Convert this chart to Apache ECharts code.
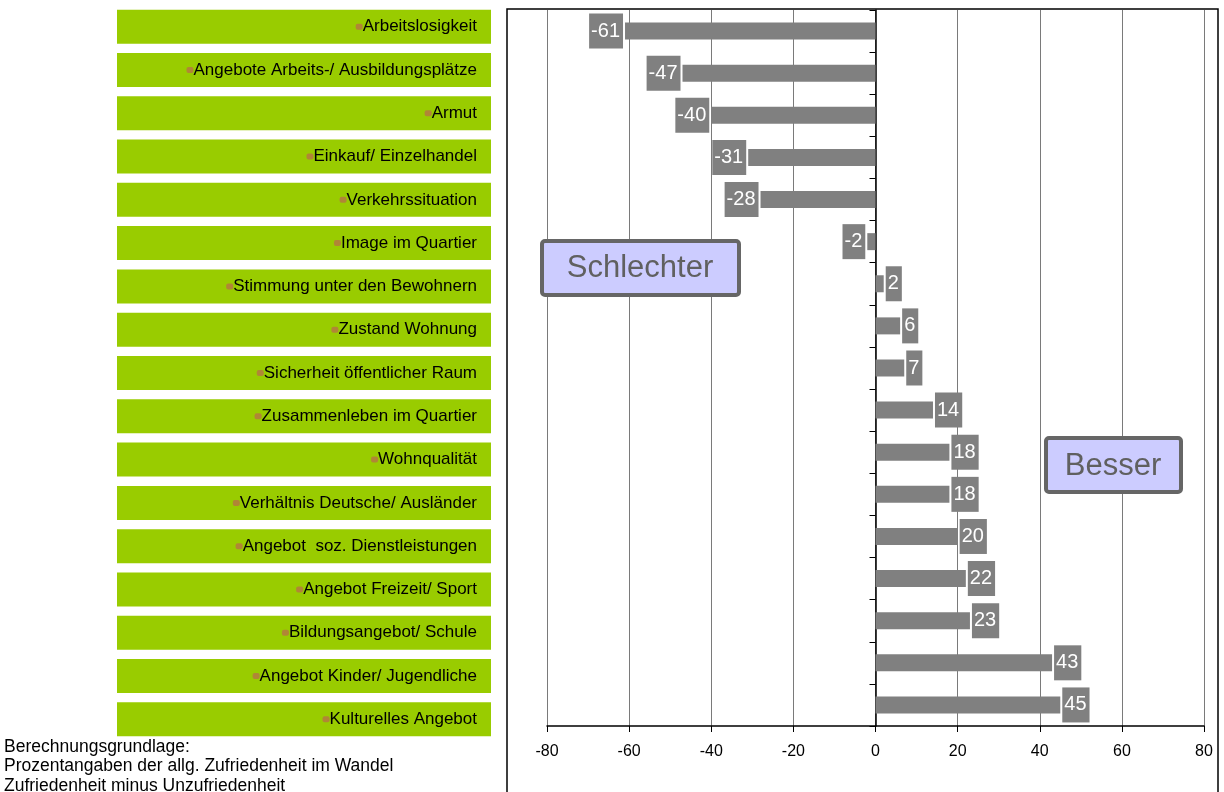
<!DOCTYPE html>
<html>
<head>
<meta charset="utf-8">
<script src="https://cdn.jsdelivr.net/npm/echarts@6/dist/echarts.min.js"></script>
<style>
  html, body { margin: 0; padding: 0; background: #fff; }
  #chart { width: 1224px; height: 792px; }
</style>
</head>
<body>
<div id="chart"></div>
<script>
// Themen im Quartier, von oben nach unten
const categories = [
  'Arbeitslosigkeit',
  'Angebote Arbeits-/ Ausbildungsplätze',
  'Armut',
  'Einkauf/ Einzelhandel',
  'Verkehrssituation',
  'Image im Quartier',
  'Stimmung unter den Bewohnern',
  'Zustand Wohnung',
  'Sicherheit öffentlicher Raum',
  'Zusammenleben im Quartier',
  'Wohnqualität',
  'Verhältnis Deutsche/ Ausländer',
  'Angebot  soz. Dienstleistungen',
  'Angebot Freizeit/ Sport',
  'Bildungsangebot/ Schule',
  'Angebot Kinder/ Jugendliche',
  'Kulturelles Angebot'
];
// Zufriedenheit minus Unzufriedenheit (Prozentpunkte)
const values = [-61, -47, -40, -31, -28, -2, 2, 6, 7, 14, 18, 18, 20, 22, 23, 43, 45];
const xTicks = { min: -80, max: 80, interval: 20 };
const noteLines = [
  'Berechnungsgrundlage:',
  'Prozentangaben der allg. Zufriedenheit im Wandel',
  'Zufriedenheit minus Unzufriedenheit'
];

const FONT = '"Liberation Sans", Arial, sans-serif';
const chart = echarts.init(document.getElementById('chart'), null, { renderer: 'canvas' });

const seriesData = values.map(v => ({
  value: v,
  label: { position: v < 0 ? 'left' : 'right' }
}));

chart.setOption({
  animation: false,
  backgroundColor: '#ffffff',
  textStyle: { fontFamily: FONT },
  title: {
    text: noteLines.join('\n'),
    left: 4,
    top: 737,
    padding: 0,
    textStyle: { fontFamily: FONT, fontSize: 17.5, fontWeight: 'normal', color: '#000', lineHeight: 19.5 }
  },
  grid: [
    // Diagrammfläche
    { left: 547, right: 20, top: 10, bottom: 66, containLabel: false },
    // schmale Spalte für die grünen Themenfelder
    { left: 491, width: 1, top: 5, height: 736, containLabel: false }
  ],
  xAxis: [
    {
      type: 'value',
      gridIndex: 0,
      min: xTicks.min,
      max: xTicks.max,
      interval: xTicks.interval,
      position: 'bottom',
      axisLine: { show: true, onZero: false, lineStyle: { color: '#000', width: 1.5 } },
      axisTick: { show: true, length: 6, lineStyle: { color: '#000' } },
      axisLabel: { fontFamily: FONT, fontSize: 16, color: '#000', margin: 18 },
      splitLine: { show: true, lineStyle: { color: '#7a7a7a', width: 1 } }
    },
    {
      type: 'value',
      gridIndex: 1,
      show: false
    }
  ],
  yAxis: [
    {
      // Nulllinie mit Teilstrichen
      type: 'category',
      gridIndex: 0,
      data: categories,
      inverse: true,
      axisLine: { show: true, onZero: true, lineStyle: { color: '#000', width: 1.5 } },
      axisTick: { show: true, length: 6, lineStyle: { color: '#000' } },
      axisLabel: { show: false },
      splitLine: { show: false }
    },
    {
      // Beschriftungsfelder links
      type: 'category',
      gridIndex: 1,
      data: categories,
      inverse: true,
      position: 'left',
      axisLine: { show: false, onZero: false },
      axisTick: { show: false },
      splitLine: { show: false },
      axisLabel: {
        margin: 0,
        interval: 0,
        formatter: v => '{b|}{t|' + v + '}',
        backgroundColor: '#99cc00',
        width: 360,
        height: 34,
        lineHeight: 34,
        padding: [0, 14, 0, 0],
        align: 'right',
        verticalAlign: 'middle',
        rich: {
          b: {
            width: 7, height: 6,
            backgroundColor: '#b08636',
            borderRadius: 2,
            verticalAlign: 'middle'
          },
          t: { fontFamily: FONT, fontSize: 17, color: '#000', verticalAlign: 'middle' }
        }
      }
    }
  ],
  series: [{
    type: 'bar',
    xAxisIndex: 0,
    yAxisIndex: 0,
    data: seriesData,
    barWidth: 17,
    itemStyle: { color: '#808080' },
    label: {
      show: true,
      distance: 2,
      fontFamily: FONT,
      fontSize: 20,
      lineHeight: 20,
      color: '#ffffff',
      backgroundColor: '#808080',
      padding: [7, 3, 8, 2]
    },
    z: 3
  }],
  graphic: [
    {
      type: 'rect', z: 0, silent: true,
      shape: { x: 507, y: 9, width: 711, height: 800 },
      style: { fill: 'none', stroke: '#000', lineWidth: 1.5 }
    },
    {
      type: 'rect', z: 10, silent: true,
      shape: { x: 542, y: 241, width: 197, height: 54, r: 3 },
      style: { fill: '#ccccff', stroke: '#666666', lineWidth: 4 }
    },
    {
      type: 'text', z: 11, silent: true,
      style: { text: 'Schlechter', x: 640, y: 268, align: 'center', verticalAlign: 'middle',
               font: '31px ' + FONT, fill: '#606060' }
    },
    {
      type: 'rect', z: 10, silent: true,
      shape: { x: 1046, y: 438, width: 135, height: 54, r: 3 },
      style: { fill: '#ccccff', stroke: '#666666', lineWidth: 4 }
    },
    {
      type: 'text', z: 11, silent: true,
      style: { text: 'Besser', x: 1113, y: 466, align: 'center', verticalAlign: 'middle',
               font: '31px ' + FONT, fill: '#606060' }
    }
  ]
});
</script>
</body>
</html>
